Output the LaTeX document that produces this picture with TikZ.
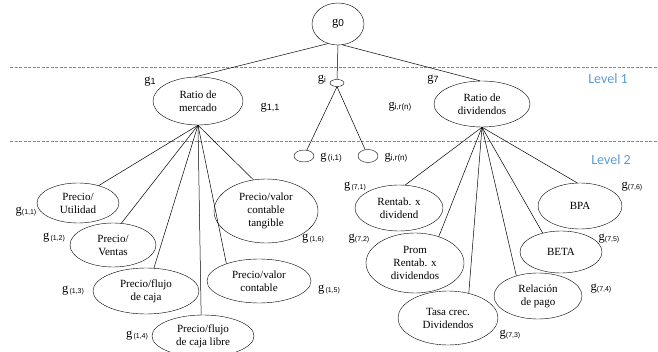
\documentclass[tikz,border=0pt]{standalone}
\usepackage{fontspec}
\setmainfont{Liberation Serif}
\newfontfamily\serf{Liberation Serif}
\newfontfamily\subf{Liberation Sans}
\newfontfamily\calib{Carlito}
\usetikzlibrary{shapes.geometric}
\definecolor{lvlblue}{RGB}{91,155,213}
\definecolor{lvlred}{RGB}{240,90,90}
\newcommand\gsub[2][8]{{\serf\fontsize{12.5}{12.5}\selectfont g}{\subf\fontsize{#1}{#1}\selectfont\raisebox{-1pt}{#2}}}
\begin{document}
\begin{tikzpicture}[x=1pt,y=-1pt,
  ell/.style={draw,ellipse,inner sep=0pt,align=center,font=\serf\fontsize{11}{13}\selectfont},
  lbl/.style={inner sep=0pt},
  lvl/.style={inner sep=0pt,text=lvlblue,font=\calib\fontsize{14}{14}\selectfont},
  lvline/.style={draw=lvlred,dash pattern=on 3pt off 1.5pt,line width=0.6pt},
  conn/.style={draw,line width=0.5pt}]
\useasboundingbox (0,0) rectangle (658,352);
% level lines
\coordinate (l1a) at (10,67); \coordinate (l1b) at (658,67);
\coordinate (l2a) at (10,141); \coordinate (l2b) at (658,141);
\draw[lvline] (l1a) -- (l1b);
\draw[lvline] (l2a) -- (l2b);
\node[lvl] (lv1) at (608,79) {Level 1};
\node[lvl] (lv2) at (611,160) {Level 2};
% nodes
\node[ell,minimum width=52pt,minimum height=42pt] (g0) at (338,24) {\gsub[10]{0}};
\node[ell,minimum width=90pt,minimum height=48pt] (rm) at (198,101) {Ratio de\\mercado};
\node[ell,minimum width=14pt,minimum height=7pt] (gi) at (337,83) {};
\node[ell,minimum width=96pt,minimum height=46pt] (rd) at (482,104) {Ratio de\\dividendos};
\node[ell,minimum width=20pt,minimum height=12pt] (gl) at (304,156) {};
\node[ell,minimum width=20pt,minimum height=13pt] (gr) at (368,156) {};
% left children
\node[ell,minimum width=82pt,minimum height=40pt] (pu) at (78,203) {Precio/\\Utilidad};
\node[ell,minimum width=86pt,minimum height=44pt] (pv) at (113,245) {Precio/\\Ventas};
\node[ell,minimum width=106pt,minimum height=46pt] (pf) at (146,291) {Precio/flujo\\de caja};
\node[ell,minimum width=102pt,minimum height=42pt] (pl) at (203,336) {Precio/flujo\\de caja libre};
\node[ell,minimum width=104pt,minimum height=44pt] (pc) at (259,281) {Precio/valor\\contable};
\node[ell,minimum width=104pt,minimum height=64pt] (pt) at (266,211) {Precio/valor\\contable\\tangible};
% right children
\node[ell,minimum width=88pt,minimum height=46pt] (rx) at (399,208) {Rentab. x\\dividend};
\node[ell,minimum width=98pt,minimum height=60pt] (pr) at (415,263) {Prom\\Rentab. x\\dividendos};
\node[ell,minimum width=100pt,minimum height=54pt] (tc) at (448,318) {Tasa crec.\\Dividendos};
\node[ell,minimum width=88pt,minimum height=46pt] (rp) at (538,296) {Relación\\de pago};
\node[ell,minimum width=82pt,minimum height=42pt] (be) at (561,252) {BETA};
\node[ell,minimum width=84pt,minimum height=46pt] (bp) at (580,206) {BPA};
% labels
\node[lbl] (t1) at (150,82) {\gsub[9]{1}};
\node[lbl] (t11) at (270,108) {\gsub[9]{1,1}};
\node[lbl] (ti) at (322,80) {\gsub[8]{i}};
\node[lbl] (t7) at (433,80) {\gsub[9]{7}};
\node[lbl] (tir1) at (400,107) {\gsub[8]{i,r(n)}};
\node[lbl] (til) at (331,158) {\gsub[8]{\,(i,1)}};
\node[lbl] (tir2) at (396,158) {\gsub[8]{i,r(n)}};
\node[lbl] (a1) at (26,212) {\gsub[7]{(1,1)}};
\node[lbl] (a2) at (54,238) {\gsub[7]{\,(1,2)}};
\node[lbl] (a3) at (73,291) {\gsub[7]{\,(1,3)}};
\node[lbl] (a4) at (137,336) {\gsub[7]{\,(1,4)}};
\node[lbl] (a5) at (329,290) {\gsub[7]{\,(1,5)}};
\node[lbl] (a6) at (313,239) {\gsub[7]{\,(1,6)}};
\node[lbl] (b1) at (355,187) {\gsub[7]{\,(7,1)}};
\node[lbl] (b2) at (359,239) {\gsub[7]{(7,2)}};
\node[lbl] (b3) at (510,335) {\gsub[7]{(7,3)}};
\node[lbl] (b4) at (601,289) {\gsub[7]{(7,4)}};
\node[lbl] (b5) at (609,239) {\gsub[7]{(7,5)}};
\node[lbl] (b6) at (632,187) {\gsub[7]{(7,6)}};
% connectors
\draw[conn] (g0.243) -- (rm.97);
\draw[conn] (g0.south) -- (gi.north);
\draw[conn] (g0.282) -- (rd.95);
\draw[conn] (gi.south) -- (gl);
\draw[conn] (gi.south) -- (gr);
\foreach \c/\a in {pu/40,pv/69,pf/71,pl/95,pc/152,pt/112}
  \draw[conn] (rm.south) -- (\c.\a);
\foreach \c/\a in {rx/75,pr/48,tc/50,rp/137,be/134,bp/97}
  \draw[conn] (rd.south) -- (\c.\a);
\end{tikzpicture}
\end{document}
